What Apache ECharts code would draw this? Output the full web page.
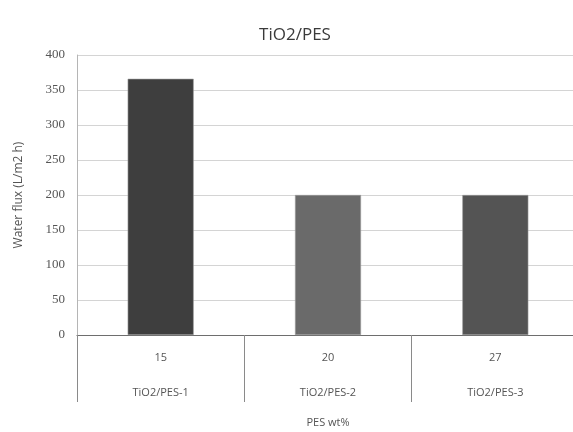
<!DOCTYPE html>
<html>
<head>
<meta charset="utf-8">
<script src="https://cdn.jsdelivr.net/npm/echarts@6/dist/echarts.min.js"></script>
<style>
  html, body { margin: 0; padding: 0; background: #ffffff; }
  #chart { width: 573px; height: 432px; }
</style>
</head>
<body>
<div id="chart"></div>
<script>
// PES content (wt%) and sample names shown on two label rows
const pesWt = ['15', '20', '27'];
const sampleNames = ['TiO2/PES-1', 'TiO2/PES-2', 'TiO2/PES-3'];
// Water flux, L/m2 h
const waterFlux = [366, 200, 200];
const barColors = ['#3e3e3e', '#6a6a6a', '#545454'];
const yTicks = { min: 0, max: 400, step: 50 };

const chart = echarts.init(document.getElementById('chart'), null, { renderer: 'canvas' });

const catLabels = pesWt.map((w, i) => w + '\n' + sampleNames[i]);

chart.setOption({
  animation: false,
  backgroundColor: '#ffffff',
  title: {
    text: 'TiO2/PES',
    left: 290,
    textAlign: 'center',
    top: 22,
    textStyle: { fontFamily: 'Open Sans', fontSize: 17, fontWeight: 'normal', color: '#3a3a3a' }
  },
  grid: { left: 77, top: 55, width: 502, height: 280, containLabel: false, outerBoundsMode: 'none' },
  xAxis: {
    type: 'category',
    data: catLabels,
    name: 'PES wt%',
    nameLocation: 'middle',
    nameGap: 82,
    nameTextStyle: { fontFamily: 'Open Sans', fontSize: 11, color: '#555555' },
    axisLine: { show: true, lineStyle: { color: '#6e6e6e', width: 1.2 } },
    axisTick: { show: true, length: 67, lineStyle: { color: '#8a8a8a', width: 1 } },
    axisLabel: {
      margin: 5,
      color: '#555555',
      fontFamily: 'Open Sans',
      fontSize: 11,
      lineHeight: 35,
      interval: 0
    }
  },
  yAxis: {
    type: 'value',
    min: yTicks.min,
    max: yTicks.max,
    interval: yTicks.step,
    name: 'Water flux (L/m2 h)',
    nameLocation: 'middle',
    nameGap: 52,
    nameTextStyle: { fontFamily: 'Open Sans', fontSize: 12, color: '#555555' },
    axisLine: { show: true, lineStyle: { color: '#b5b5b5', width: 1 } },
    axisTick: { show: false },
    axisLabel: { margin: 12, color: '#555555', fontFamily: 'Liberation Serif', fontSize: 13 },
    splitLine: { show: true, lineStyle: { color: '#d4d4d4', width: 1 } }
  },
  series: [{
    type: 'bar',
    data: waterFlux.map((v, i) => ({ value: v, itemStyle: { color: barColors[i] } })),
    barWidth: 66,
    itemStyle: { borderColor: '#9a9a9a', borderWidth: 0.6 }
  }]
});
</script>
</body>
</html>
